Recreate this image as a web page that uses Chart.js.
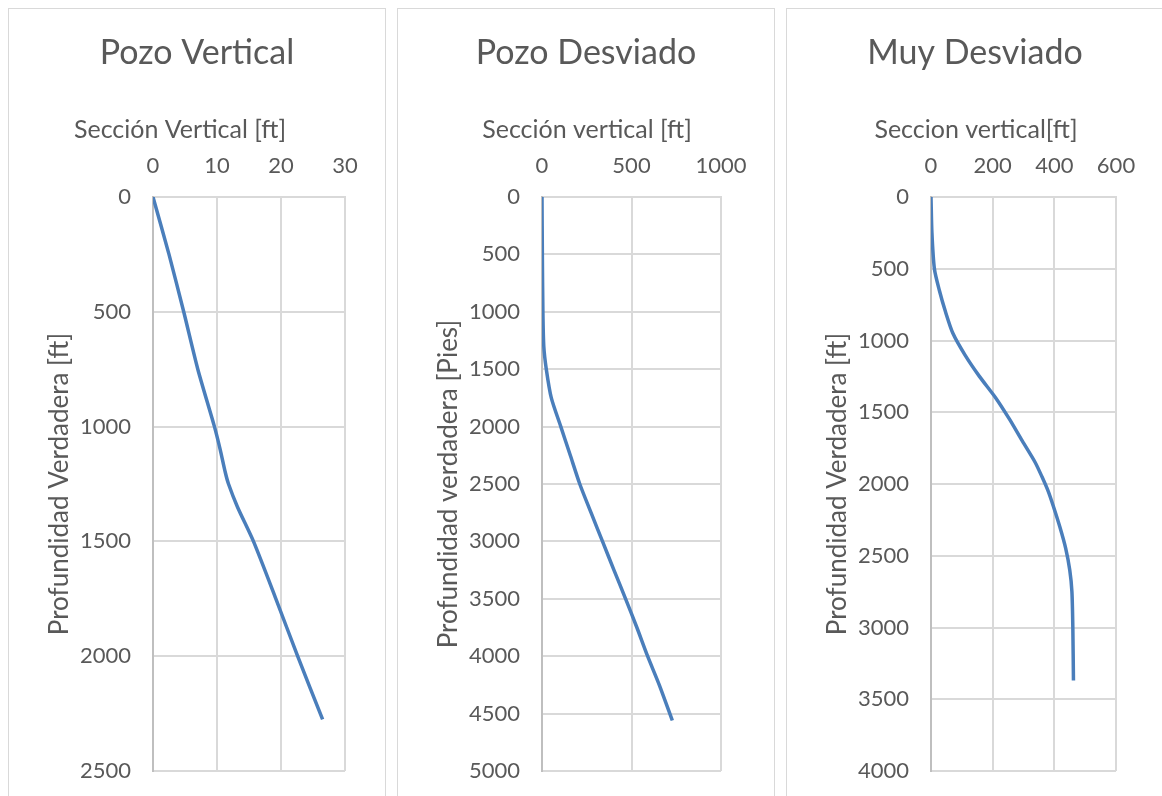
<!DOCTYPE html>
<html>
<head>
<meta charset="utf-8">
<script src="https://cdn.jsdelivr.net/npm/chart.js@4.4.1/dist/chart.umd.min.js"></script>
<style>
body { margin:0; background:#fff; width:1162px; height:796px; overflow:hidden; position:relative; }
.panel { position:absolute; top:8px; width:376px; height:800px; border:1px solid #d9d9d9; background:#fff; }
canvas { display:block; }
</style>
</head>
<body>
<div class="panel" style="left:8px"><canvas id="pozoVertical" width="376" height="787"></canvas></div>
<div class="panel" style="left:397px"><canvas id="pozoDesviado" width="376" height="787"></canvas></div>
<div class="panel" style="left:786px"><canvas id="muyDesviado" width="376" height="787"></canvas></div>
<script>
// Pozo vertical: profundidad [ft] y seccion vertical [ft]
var profVertical = [0, 250, 500, 750, 1000, 1100, 1200, 1250, 1350, 1500, 1750, 2000, 2275];
var svVertical   = [0, 2.5, 4.8, 7.0, 9.6, 10.5, 11.3, 11.8, 13.2, 15.7, 19.2, 22.6, 26.5];

// Pozo desviado
var profDesviado = [0, 500, 1000, 1300, 1500, 1750, 2000, 2250, 2500, 2750, 3000, 3250, 3500, 3750, 4000, 4250, 4560];
var svDesviado   = [0, 2, 5, 10, 24, 52, 105, 158, 211, 274, 338, 402, 467, 530, 590, 655, 728];

// Muy desviado
var profMuy = [0, 250, 500, 650, 800, 950, 1100, 1250, 1400, 1550, 1700, 1850, 1950, 2050, 2150, 2300, 2450, 2600, 2750, 3000, 3370];
var svMuy   = [0, 3, 11, 27, 47, 71, 110, 157, 210, 255, 296, 338, 360, 380, 396, 418, 437, 450, 457, 460, 462];

var gris = '#595959';
var fuente = 'Lato, "Open Sans", sans-serif';

function crearGrafico(id, titulo, tituloX, tituloY, sv, prof, xMax, xPaso, yMax, derecha, centroTituloX) {
    var puntos = [];
    for (i = 0; i < sv.length; i++) {
        puntos.push({x: sv[i], y: prof[i]});
    }
    // titulo del eje x, centrado donde esta en el original
    var tituloEjeX = {
        id: 'tituloEjeX',
        afterDraw: function(chart) {
            var c = chart.ctx;
            c.save();
            c.font = '25px ' + fuente;
            c.fillStyle = gris;
            c.textAlign = 'center';
            c.textBaseline = 'middle';
            c.fillText(tituloX, centroTituloX, 121);
            c.restore();
        }
    };
    var ctx = document.getElementById(id).getContext('2d');
    return new Chart(ctx, {
        type: 'scatter',
        data: {
            datasets: [{
                data: puntos,
                showLine: true,
                borderColor: '#4a7ebb',
                borderWidth: 3.5,
                pointRadius: 0,
                tension: 0.25
            }]
        },
        options: {
            responsive: false,
            animation: false,
            layout: { padding: { top: 0, right: 0, bottom: 25, left: 0 } },
            plugins: {
                legend: { display: false },
                tooltip: { enabled: false },
                title: {
                    display: true, text: titulo, color: gris,
                    font: { family: fuente, size: 34, weight: 'normal' },
                    padding: { top: 23.6, bottom: 69.6 }
                }
            },
            scales: {
                x: {
                    type: 'linear', position: 'top', min: 0, max: xMax,
                    ticks: { stepSize: xPaso, padding: 18, color: gris,
                             font: { family: fuente, size: 22 },
                             callback: function(v) { return String(v); } },
                    grid: { color: '#d9d9d9', lineWidth: 2, drawTicks: false },
                    border: { color: '#d9d9d9', width: 2 },
                    afterFit: function(s) { s.height = 54; }
                },
                y: {
                    type: 'linear', reverse: true, min: 0, max: yMax,
                    ticks: { stepSize: 500, padding: 22, color: gris,
                             font: { family: fuente, size: 22 },
                             callback: function(v) { return String(v); } },
                    grid: { color: '#d9d9d9', lineWidth: 2, drawTicks: false },
                    border: { color: '#bfbfbf', width: 2 },
                    title: { display: true, text: tituloY, color: gris,
                             font: { family: fuente, size: 26 },
                             padding: { top: 35, bottom: 0 } },
                    afterFit: function(s) {
                        s.width = 144;
                        s.paddingTop = 0;
                        s.paddingBottom = 0;
                    }
                },
                margen: {
                    type: 'linear', position: 'right',
                    ticks: { display: false },
                    grid: { display: false },
                    border: { display: false },
                    afterFit: function(s) { s.width = derecha; }
                }
            }
        },
        plugins: [tituloEjeX]
    });
}

crearGrafico('pozoVertical', 'Pozo Vertical', 'Sección Vertical [ft]', 'Profundidad Verdadera [ft]',
    svVertical, profVertical, 30, 10, 2500, 40, 171);
crearGrafico('pozoDesviado', 'Pozo Desviado', 'Sección vertical [ft]', 'Profundidad verdadera [Pies]',
    svDesviado, profDesviado, 1000, 500, 5000, 53, 189);
crearGrafico('muyDesviado', 'Muy Desviado', 'Seccion vertical[ft]', 'Profundidad Verdadera [ft]',
    svMuy, profMuy, 600, 200, 4000, 47, 189);
</script>
</body>
</html>
